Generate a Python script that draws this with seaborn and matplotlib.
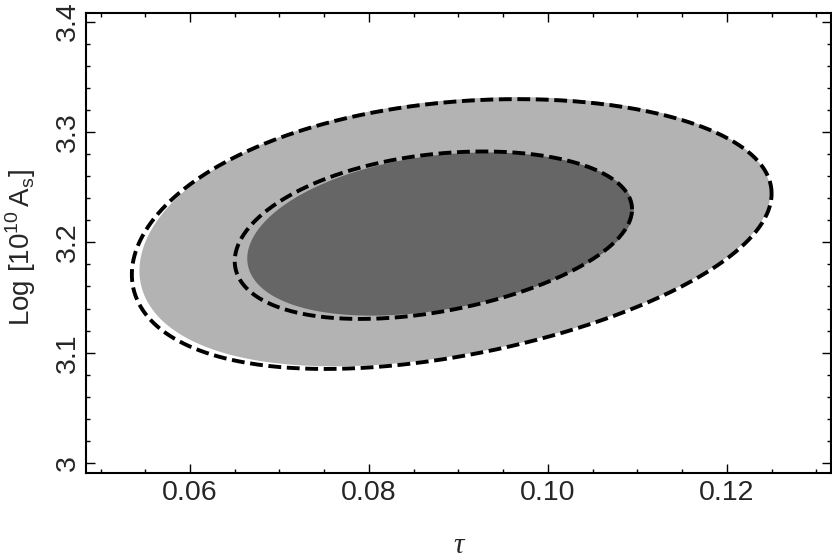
import numpy as np
import pandas as pd
import matplotlib
matplotlib.use("Agg")
import matplotlib.pyplot as plt
import seaborn as sns
from matplotlib.ticker import MultipleLocator, FuncFormatter

# contour regions: extremes in tau and Log As, plus tilt
contour_names = ["fill_95", "fill_68", "dash_95", "dash_68"]
tau_left = [0.05435, 0.0664, 0.0535, 0.0650]
tau_right = [0.12486, 0.1096, 0.1250, 0.1094]
las_low = [3.0877, 3.1336, 3.0853, 3.1306]
las_high = [3.3315, 3.2814, 3.3297, 3.2823]
corr = [0.29, 0.30, 0.30, 0.31]

fill_colors = {"fill_95": "#b3b3b3", "fill_68": "#666666"}

x_ticks = [0.06, 0.08, 0.10, 0.12]
y_ticks = [3.0, 3.1, 3.2, 3.3, 3.4]


def contour_frame(i):
    # ellipse in (sqrt(tau), Log As), mapped back to tau -> slightly egg shaped
    t = np.linspace(0, 2 * np.pi, 600)
    r = corr[i]
    ul, ur = np.sqrt(tau_left[i]), np.sqrt(tau_right[i])
    uc, uh = (ul + ur) / 2, (ur - ul) / 2
    yc, yh = (las_low[i] + las_high[i]) / 2, (las_high[i] - las_low[i]) / 2
    tau = (uc + uh * np.cos(t)) ** 2
    las = yc + yh * (r * np.cos(t) + np.sqrt(1 - r * r) * np.sin(t))
    return pd.DataFrame({"tau": tau, "las": las, "name": contour_names[i]})


sns.set_theme(style="ticks")
plt.rcParams["font.family"] = ["Liberation Sans", "DejaVu Sans"]
plt.rcParams["mathtext.fontset"] = "custom"
plt.rcParams["mathtext.rm"] = "Liberation Sans"

fig = plt.figure(figsize=(8.32, 5.57), dpi=100)
ax = fig.add_axes([0.1034, 0.1513, 0.8954, 0.8259])

frames = {n: contour_frame(i) for i, n in enumerate(contour_names)}

# filled regions first
for n in ["fill_95", "fill_68"]:
    d = frames[n]
    ax.fill(d["tau"], d["las"], color=fill_colors[n], lw=0, zorder=1)

# dashed outlines on top
for n in ["dash_95", "dash_68"]:
    sns.lineplot(data=frames[n], x="tau", y="las", sort=False, estimator=None,
                 ax=ax, color="black", lw=2.8, zorder=3)
for line in ax.lines:
    line.set_linestyle((0, (3.3, 1.45)))
    line.set_dash_capstyle("butt")

ax.set_xlim(0.04838, 0.13164)
ax.set_ylim(2.9913, 3.408)

ax.set_xticks(x_ticks)
ax.set_yticks(y_ticks)
ax.xaxis.set_minor_locator(MultipleLocator(0.005))
ax.yaxis.set_minor_locator(MultipleLocator(0.02))
ax.xaxis.set_major_formatter(FuncFormatter(lambda v, p: f"{v:.2f}"))
ax.yaxis.set_major_formatter(FuncFormatter(lambda v, p: f"{v:g}"))

ax.tick_params(which="both", direction="in", top=True, right=True,
               width=1.0, color="black", labelsize=20.5)
ax.tick_params(which="major", length=6.3)
ax.tick_params(which="minor", length=3.2)
ax.tick_params(axis="x", pad=5)
ax.tick_params(axis="y", pad=4, labelrotation=90)
for lab in ax.get_yticklabels():
    lab.set_va("center")

for sp in ax.spines.values():
    sp.set_linewidth(1.5)
    sp.set_color("black")

ax.set_xlabel("τ", fontfamily="Liberation Serif", fontstyle="italic", fontsize=21)
ax.xaxis.set_label_coords(0.5, -0.13)
ax.set_ylabel(r"Log [10$^{\mathrm{10}}\,\mathrm{A}_{\mathrm{s}}$]", fontsize=20)
ax.yaxis.set_label_coords(-0.064, 0.49)

fig.savefig("out.png", dpi=100)
